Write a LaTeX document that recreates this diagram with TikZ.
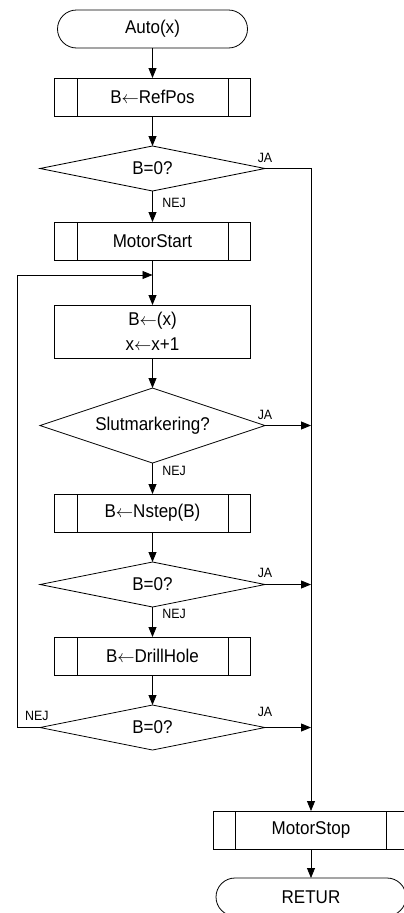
\documentclass[tikz,border=0pt]{standalone}
\usepackage{fontspec}
\setmainfont{Liberation Sans}[FakeStretch=0.92]
\usetikzlibrary{positioning,arrows.meta,calc,shapes.geometric,shapes.misc}

\newcommand{\assign}{\ensuremath{\leftarrow}}

\begin{document}
\begin{tikzpicture}[
  x=1pt, y=1pt,
  node distance=30pt,
  font=\fontsize{18.5}{25}\selectfont,
  line width=0.8pt,
  >={Triangle[length=10pt, width=8pt]},
  base/.style={draw, inner sep=0pt, outer sep=0pt, align=center},
  term/.style={base, rounded rectangle, minimum width=190pt, minimum height=38pt},
  proc/.style={base, rectangle, minimum width=196pt, minimum height=38pt},
  sub/.style={proc, path picture={
      \draw ([xshift=22.5pt]path picture bounding box.north west)
         -- ([xshift=22.5pt]path picture bounding box.south west);
      \draw ([xshift=-22.5pt]path picture bounding box.north east)
         -- ([xshift=-22.5pt]path picture bounding box.south east);}},
  cond/.style={base, diamond, aspect=3, minimum width=225pt, minimum height=45pt},
  lbl/.style={font=\fontsize{13.5}{14}\selectfont, inner sep=0pt},
  arr/.style={->}
]

\useasboundingbox (0,0) rectangle (404,-913);
\clip (0,0) rectangle (404,-913);

% ---------- main column ----------
\node[term] (start) at (152.5,-29) {Auto(x)};
\node[sub, below=of start]    (refpos) {B\assign RefPos};
\node[cond, below=of refpos]  (q1)     {B=0?};
\node[sub, below=31pt of q1]  (mstart) {MotorStart};
\node[proc, below=45pt of mstart, minimum height=53pt] (next) {B\assign(x)\\x\assign x+1};
\node[cond, below=of next, minimum height=75pt] (q2) {Slutmarkering?};
\node[sub, below=31pt of q2]  (nstep)  {B\assign Nstep(B)};
\node[cond, below=of nstep]   (q3)     {B=0?};
\node[sub, below=of q3]       (drill)  {B\assign DrillHole};
\node[cond, below=of drill]   (q4)     {B=0?};

\foreach \a/\b in {start/refpos,refpos/q1,mstart/next,next/q2,nstep/q3,drill/q4}
  \draw[arr] (\a) -- (\b);

% NEJ branches straight down
\foreach \a/\b/\dy in {q1/mstart/-7,q2/nstep/-3,q3/drill/-2}
  \draw[arr] (\a) -- (\b)
    node[lbl, pos=0, anchor=north west, xshift=9.5pt, yshift=\dy] {NEJ};

% ---------- exit column ----------
\coordinate (rcol) at ($(q1.east)+(46,0)$);
\node[sub] (mstop) at ($(rcol |- q4.south)+(0,-80)$) {MotorStop};
\node[term, below=29pt of mstop] (retur) {RETUR};
\draw[arr] (mstop) -- (retur);

\draw[arr] (q1.east) -| (mstop.north)
  node[lbl, pos=0, anchor=south, yshift=5.5pt] {JA};
\foreach \q/\dy in {q2/5.5,q3/6.5,q4/10}
  \draw[arr] (\q.east) -- (\q.east -| mstop)
    node[lbl, pos=0, anchor=south, yshift=\dy] {JA};

% ---------- loop back ----------
\coordinate[above=30pt of next] (merge);
\draw[arr] (q4.west) -- ++(-23,0) |- (merge);
\node[lbl, anchor=south east] (nej4) at ($(q4.west)+(9,6)$) {NEJ};

\end{tikzpicture}
\end{document}
